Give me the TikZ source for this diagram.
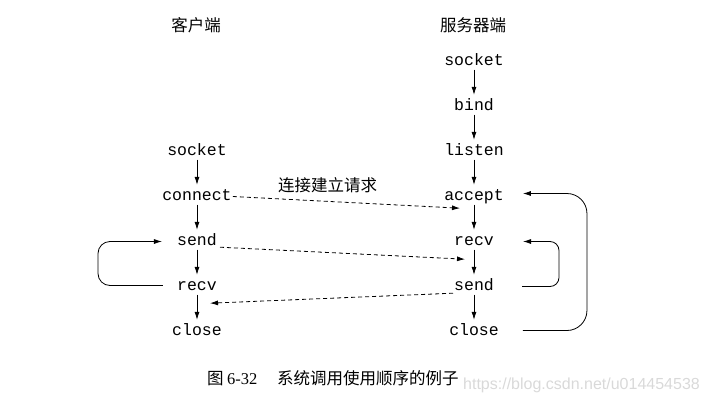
\documentclass[tikz,border=0pt]{standalone}
\usepackage{fontspec}
\setmonofont{Liberation Mono}
\newfontfamily\cjk{Noto Sans CJK SC}
\newfontfamily\serifl{Liberation Serif}
\newfontfamily\wmfont{Liberation Sans}
\usetikzlibrary{arrows.meta,calc}
\tikzset{
  call/.style={font=\ttfamily\fontsize{16.5}{18}\selectfont, inner sep=0pt, text height=10pt, text depth=3pt, anchor=base},
  cjktext/.style={font=\cjk\fontsize{16.5}{18}\selectfont, inner sep=0pt, anchor=base},
  arr/.style={line width=0.8pt, -{Latex[length=8pt,width=5pt]}},
  varr/.style={arr, shorten <=1.5pt, shorten >=5pt},
  darr/.style={arr, dash pattern=on 4pt off 3pt},
}
\begin{document}
\begin{tikzpicture}[x=1pt,y=-1pt]
\useasboundingbox (0,0) rectangle (707,402);
% headers
\node[cjktext] (hc) at (196,31) {客户端};
\node[cjktext] (hs) at (473,31) {服务器端};
% client
\node[call] (csock) at (197,155) {socket};
\node[call] (cconn) at (197,200) {connect};
\node[call] (csend) at (197,245) {send};
\node[call] (crecv) at (197,290) {recv};
\node[call] (cclose) at (197,335) {close};
% server
\node[call] (ssock) at (474,65) {socket};
\node[call] (sbind) at (474,110) {bind};
\node[call] (slist) at (474,155) {listen};
\node[call] (sacc) at (474,200) {accept};
\node[call] (srecv) at (474,245) {recv};
\node[call] (ssend) at (474,290) {send};
\node[call] (sclose) at (474,335) {close};
% vertical arrows
\draw[varr] (csock.south) -- (cconn.north);
\draw[varr] (cconn.south) -- (csend.north);
\draw[varr] (csend.south) -- (crecv.north);
\draw[varr] (crecv.south) -- (cclose.north);
\draw[varr] (ssock.south) -- (sbind.north);
\draw[varr] (sbind.south) -- (slist.north);
\draw[varr] (slist.south) -- (sacc.north);
\draw[varr] (sacc.south) -- (srecv.north);
\draw[varr] (srecv.south) -- (ssend.north);
\draw[varr] (ssend.south) -- (sclose.north);
% dashed messages
\draw[darr] ($(cconn.east)+(1,0)$) -- ($(sacc.south)+(-14,5)$);
\node[cjktext, anchor=base west] (lbl) at (278,191) {连接建立请求};
\draw[darr] ($(csend.south east)+(3,-1)$) -- ($(srecv.south)+(-9,11)$);
\draw[darr] ($(ssend.south west)+(-1,0)$) -- ($(crecv.south)+(13,10)$);
% loops
\draw[arr, rounded corners=12pt] ($(crecv.west)+(-14,-1)$) -- ++(-65,0) |- ($(csend.west)+(-15,0)$);
\draw[arr, rounded corners=9pt] ($(ssend.east)+(28,0)$) -- ++(37,0) |- ($(srecv.east)+(29,0)$);
\draw[arr, rounded corners=20pt] ($(sclose.east)+(24,-1)$) -- ++(64,0) |- ($(sacc.east)+(19,-3)$);
% caption
\node[cjktext, anchor=base west] (cap1) at (207,384) {图};
\node[font=\serifl\fontsize{16.5}{18}\selectfont, inner sep=0pt, anchor=base west] (cap2) at (227,384) {6-32};
\node[cjktext, anchor=base west] (cap3) at (277,384) {系统调用使用顺序的例子};
\node[font=\wmfont\fontsize{16}{18}\selectfont, inner sep=0pt, anchor=base west, text=black!15] (wm) at (463,389) {https://blog.csdn.net/u014454538};
\end{tikzpicture}
\end{document}
